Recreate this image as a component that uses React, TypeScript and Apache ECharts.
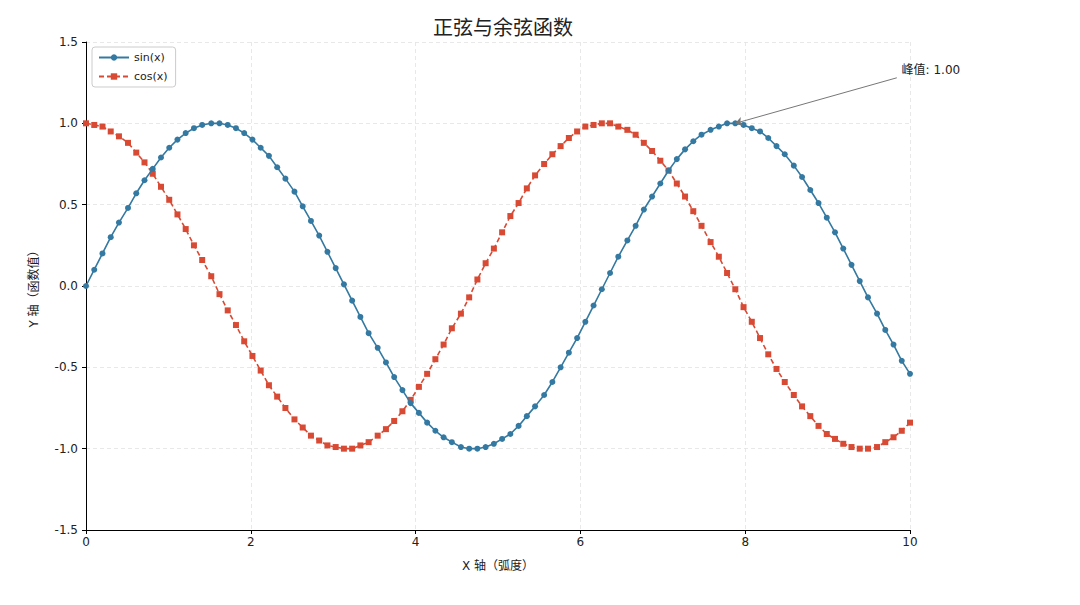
import React, { useEffect, useRef } from "react";
import * as echarts from "echarts";

const xValues = [
  0.0, 0.1, 0.2, 0.3, 0.4, 0.51, 0.61, 0.71, 0.81, 0.91,
  1.01, 1.11, 1.21, 1.31, 1.41, 1.52, 1.62, 1.72, 1.82, 1.92,
  2.02, 2.12, 2.22, 2.32, 2.42, 2.53, 2.63, 2.73, 2.83, 2.93,
  3.03, 3.13, 3.23, 3.33, 3.43, 3.54, 3.64, 3.74, 3.84, 3.94,
  4.04, 4.14, 4.24, 4.34, 4.44, 4.55, 4.65, 4.75, 4.85, 4.95,
  5.05, 5.15, 5.25, 5.35, 5.45, 5.56, 5.66, 5.76, 5.86, 5.96,
  6.06, 6.16, 6.26, 6.36, 6.46, 6.57, 6.67, 6.77, 6.87, 6.97,
  7.07, 7.17, 7.27, 7.37, 7.47, 7.58, 7.68, 7.78, 7.88, 7.98,
  8.08, 8.18, 8.28, 8.38, 8.48, 8.59, 8.69, 8.79, 8.89, 8.99,
  9.09, 9.19, 9.29, 9.39, 9.49, 9.6, 9.7, 9.8, 9.9, 10.0,
];

const sinValues = [
  0.0, 0.1, 0.2, 0.3, 0.39, 0.48, 0.57, 0.65, 0.72, 0.79,
  0.85, 0.9, 0.94, 0.97, 0.99, 1.0, 1.0, 0.99, 0.97, 0.94,
  0.9, 0.85, 0.8, 0.73, 0.66, 0.58, 0.49, 0.4, 0.31, 0.21,
  0.11, 0.01, -0.09, -0.19, -0.29, -0.38, -0.47, -0.56, -0.64, -0.72,
  -0.78, -0.84, -0.89, -0.93, -0.96, -0.99, -1.0, -1.0, -0.99, -0.97,
  -0.94, -0.91, -0.86, -0.8, -0.74, -0.67, -0.59, -0.5, -0.41, -0.32,
  -0.22, -0.12, -0.02, 0.08, 0.18, 0.28, 0.37, 0.47, 0.55, 0.63,
  0.71, 0.78, 0.84, 0.89, 0.93, 0.96, 0.98, 1.0, 1.0, 0.99,
  0.97, 0.95, 0.91, 0.86, 0.81, 0.74, 0.67, 0.59, 0.51, 0.42,
  0.33, 0.23, 0.13, 0.03, -0.07, -0.17, -0.27, -0.36, -0.46, -0.54,
];

const cosValues = [
  1.0, 0.99, 0.98, 0.95, 0.92, 0.88, 0.82, 0.76, 0.69, 0.61,
  0.53, 0.44, 0.35, 0.25, 0.16, 0.06, -0.05, -0.15, -0.24, -0.34,
  -0.43, -0.52, -0.61, -0.68, -0.75, -0.82, -0.87, -0.92, -0.95, -0.98,
  -0.99, -1.0, -1.0, -0.98, -0.96, -0.92, -0.88, -0.83, -0.77, -0.7,
  -0.62, -0.54, -0.45, -0.36, -0.26, -0.17, -0.07, 0.04, 0.14, 0.23,
  0.33, 0.43, 0.51, 0.6, 0.68, 0.75, 0.81, 0.86, 0.91, 0.95,
  0.98, 0.99, 1.0, 1.0, 0.98, 0.96, 0.93, 0.88, 0.83, 0.77,
  0.71, 0.63, 0.55, 0.46, 0.37, 0.27, 0.18, 0.08, -0.02, -0.13,
  -0.22, -0.32, -0.42, -0.51, -0.59, -0.67, -0.74, -0.8, -0.86, -0.91,
  -0.94, -0.97, -0.99, -1.0, -1.0, -0.99, -0.96, -0.93, -0.89, -0.84,
];

const peakX = 7.88;
const peakY = 1.0;
const annotationTextPos = [9.88, 1.33];
const annotationArrowStart = [9.84, 1.28];

const FONT = "'DejaVu Sans', 'Noto Sans CJK SC', sans-serif";
const SIN_COLOR = "#3479a1";
const COS_COLOR = "#d94a34";

export default function App() {
  const ref = useRef<HTMLDivElement>(null);
  useEffect(() => {
    if (!ref.current) return;
    const chart = echarts.init(ref.current, undefined, { renderer: "svg" });
    const sinData = xValues.map((x, i) => [x, sinValues[i]]);
    const cosData = xValues.map((x, i) => [x, cosValues[i]]);
    chart.setOption({
      animation: false,
      backgroundColor: "#ffffff",
      title: {
        text: "正弦与余弦函数",
        left: 498,
        textAlign: "center",
        top: 13,
        textStyle: { fontFamily: FONT, fontSize: 20, fontWeight: "normal", color: "#222" },
      },
      legend: {
        left: 92,
        top: 47,
        orient: "vertical",
        itemGap: 8,
        itemWidth: 30,
        itemHeight: 8,
        padding: [5, 8, 5, 6],
        borderColor: "#cccccc",
        borderWidth: 1,
        borderRadius: 3,
        textStyle: { fontFamily: FONT, fontSize: 11, color: "#222" },
        data: ["sin(x)", "cos(x)"],
      },
      grid: { left: 86, right: 170, top: 42, bottom: 75, containLabel: false },
      xAxis: {
        type: "value",
        min: 0,
        max: 10,
        interval: 2,
        name: "X 轴（弧度）",
        nameLocation: "middle",
        nameGap: 30,
        nameTextStyle: { fontFamily: FONT, fontSize: 12, color: "#222" },
        axisLine: { show: true, onZero: false, lineStyle: { color: "#000", width: 1 } },
        axisTick: { show: true, length: 4, lineStyle: { color: "#000" } },
        axisLabel: { fontFamily: FONT, fontSize: 12, color: "#222", margin: 6 },
        splitLine: { show: true, lineStyle: { color: "#e2e2e2", type: [4, 3], width: 0.8 } },
      },
      yAxis: {
        type: "value",
        min: -1.5,
        max: 1.5,
        interval: 0.5,
        name: "Y 轴（函数值）",
        nameLocation: "middle",
        nameGap: 46,
        nameRotate: 90,
        nameTextStyle: { fontFamily: FONT, fontSize: 12, color: "#222" },
        axisLine: { show: true, onZero: false, lineStyle: { color: "#000", width: 1 } },
        axisTick: { show: true, length: 4, lineStyle: { color: "#000" } },
        axisLabel: {
          fontFamily: FONT,
          fontSize: 12,
          color: "#222",
          margin: 8,
          formatter: (v: number) => v.toFixed(1),
        },
        splitLine: { show: true, lineStyle: { color: "#e2e2e2", type: [4, 3], width: 0.8 } },
      },
      series: [
        {
          name: "sin(x)",
          type: "line",
          data: sinData,
          symbol: "circle",
          symbolSize: 6,
          showAllSymbol: true,
          lineStyle: { color: SIN_COLOR, width: 1.6 },
          itemStyle: { color: SIN_COLOR },
          z: 3,
          markLine: {
            silent: true,
            symbol: ["none", "arrow"],
            symbolSize: 7,
            lineStyle: { color: "#777", width: 1, type: "solid" },
            label: { show: false },
            data: [
              [
                { coord: annotationArrowStart },
                { coord: [peakX, peakY] },
              ],
            ],
          },
          markPoint: {
            silent: true,
            symbol: "rect",
            symbolSize: 1,
            itemStyle: { color: "rgba(0,0,0,0)" },
            label: {
              show: true,
              position: "right",
              distance: 1,
              fontFamily: FONT,
              fontSize: 12,
              color: "#222",
              formatter: () => `峰值: ${peakY.toFixed(2)}`,
            },
            data: [{ coord: annotationTextPos }],
          },
        },
        {
          name: "cos(x)",
          type: "line",
          data: cosData,
          symbol: "rect",
          symbolSize: 6,
          showAllSymbol: true,
          lineStyle: { color: COS_COLOR, width: 1.6, type: [5, 3] },
          itemStyle: { color: COS_COLOR },
          z: 2,
        },
      ],
    });
    return () => chart.dispose();
  }, []);
  return (
    <div
      ref={ref}
      style={{ position: "fixed", left: 0, top: 0, width: 1080, height: 605, background: "#fff" }}
    />
  );
}
